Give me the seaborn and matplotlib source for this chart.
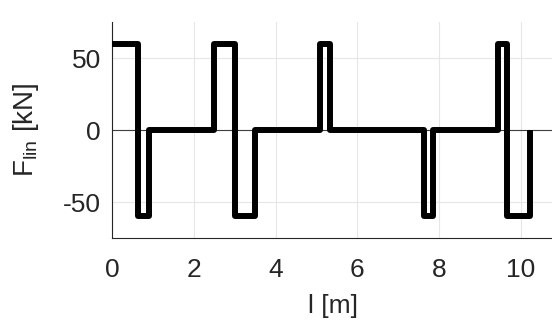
import matplotlib
matplotlib.use("Agg")
import matplotlib.pyplot as plt
import seaborn as sns
import pandas as pd

# 区間の始点 [m] と力 [kN]
l_edges = [0, 0.63, 0.915, 2.5, 3.0, 3.49, 5.08, 5.32, 7.63, 7.86, 9.44, 9.67, 10.21]
f_levels = [60, -60, 0, 60, -60, 0, 60, 0, -60, 0, 60, -60, 0]
x_ticks = [0, 2, 4, 6, 8, 10]
y_ticks = [-50, 0, 50]

sns.set_style("white")
plt.rcParams['font.family'] = ['Liberation Sans', 'DejaVu Sans']
plt.rcParams['mathtext.fontset'] = 'custom'
plt.rcParams['mathtext.rm'] = 'Liberation Sans'
plt.rcParams['axes.unicode_minus'] = False

df = pd.DataFrame({'l': l_edges, 'F': f_levels})

fig = plt.figure(figsize=(5.52, 3.2), dpi=100)
ax = fig.add_axes([0.203, 0.256, 0.80, 0.675])

ax.axhline(0, color='#404040', lw=0.8, zorder=1)
sns.lineplot(data=df, x='l', y='F', ax=ax, color='black', lw=4.3,
             drawstyle='steps-post', sort=False, estimator=None,
             solid_joinstyle='round', solid_capstyle='butt', zorder=3)

ax.set_xlim(0, 10.8)
ax.set_ylim(-75, 75)
ax.set_xticks(x_ticks)
ax.set_yticks(y_ticks)
ax.grid(True, color='#e6e6e6', lw=0.8)
ax.set_axisbelow(True)
ax.tick_params(direction='in', length=4, width=0.8, colors='#262626',
               labelsize=19)
ax.tick_params(axis='x', pad=14)
ax.tick_params(axis='y', pad=8)
for s in ['top', 'right']:
    ax.spines[s].set_visible(False)
for s in ['left', 'bottom']:
    ax.spines[s].set_color('#262626')
    ax.spines[s].set_linewidth(0.8)

ax.set_xlabel('l [m]', fontsize=19, color='#262626', labelpad=9)
ax.set_ylabel(r'F$_{\mathrm{lin}}$ [kN]', fontsize=20, color='#262626', labelpad=16)

fig.savefig('out.png', dpi=100)
